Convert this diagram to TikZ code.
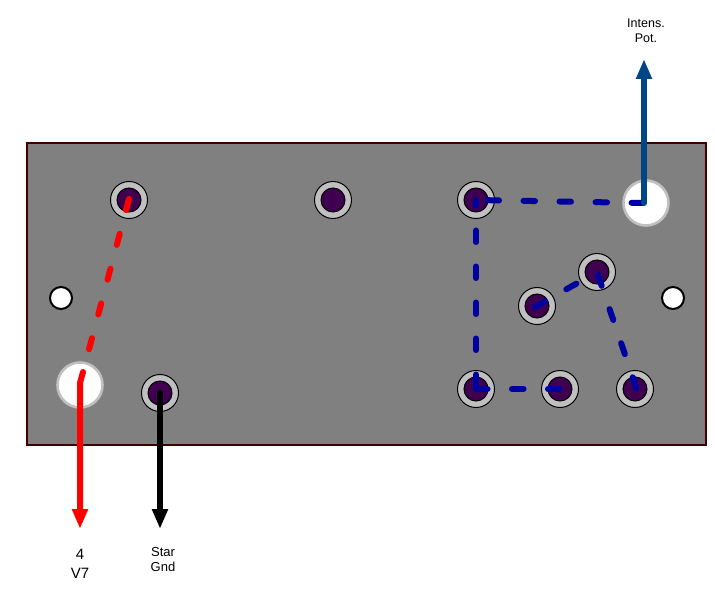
\documentclass[tikz,border=0pt]{standalone}
\usepackage{fontspec}
\setmainfont{Liberation Sans}
\usetikzlibrary{arrows.meta}
\definecolor{boardgray}{HTML}{808080}
\definecolor{boardedge}{HTML}{400000}
\definecolor{postgray}{HTML}{C0C0C0}
\definecolor{postpurple}{HTML}{400050}
\definecolor{wireblue}{HTML}{0000A0}
\definecolor{potblue}{HTML}{004586}
\tikzset{
  post/.style={circle, draw=black, line width=1pt, fill=postgray, minimum size=37pt, inner sep=0pt},
  postin/.style={circle, draw=black, line width=1pt, fill=postpurple, minimum size=24pt, inner sep=0pt},
  screw/.style={circle, draw=black, line width=2pt, fill=white, minimum size=22pt, inner sep=0pt},
  bighole/.style={circle, draw=postgray, line width=2.6pt, fill=white, minimum size=45pt, inner sep=0pt},
  wire/.style={line width=6pt, line cap=round, dash pattern=on 11.5pt off 24.5pt},
  lead/.style={line width=6pt, line cap=round, line join=round, -{Triangle[width=15pt,length=20pt]}},
  lbl/.style={align=center, inner sep=0pt}
}
\begin{document}
\begin{tikzpicture}[x=1pt, y=-1pt]
\useasboundingbox (0,0) rectangle (715,596);

\draw[draw=boardedge, fill=boardgray, line width=2pt] (27,143) rectangle (706,445);

\node[screw] (screwl) at (61,298) {};
\node[screw] (screwr) at (673,298) {};
\node[bighole] (holel) at (80,385) {};
\node[bighole] (holer) at (646,203) {};

\foreach \name/\px/\py in {a/129/200, b/333/200, c/476/200, d/597/272, e/537/306, f/160/393, g/476/389, h/560/389, i/635/389} {
  \node[post] (\name) at (\px,\py) {};
  \node[postin] (\name in) at (\px,\py) {};
}

\coordinate (redtop) at (129,199);
\coordinate (redend) at (83,372);
\coordinate (redbend) at (80,383);
\coordinate (redtip) at (80,529);
\coordinate (blacktip) at (160,529);
\coordinate (bluetop) at (644,59);
\coordinate (bluefoot) at (644,203);
\coordinate (wirestart) at (643,203);
\coordinate (wirefoot) at (476,386);
\coordinate (wirediag) at (535,307);
\coordinate (wiretop) at (598,275);
\coordinate (wireend) at (637,390);

\draw[wire, red] (redtop) -- (redend);
\draw[wire, wireblue] (wirestart) -- (c.center);
\draw[wire, wireblue] (wirefoot) -- (c.center);
\draw[wire, wireblue] (g.center) -- (h.center);
\draw[wire, wireblue] (wirediag) -- (d.center);
\draw[wire, wireblue] (wiretop) -- (wireend);

\draw[lead, red] (redend) -- (redbend) -- (redtip);
\draw[lead, black] (f.center) -- (blacktip);
\draw[lead, potblue] (bluefoot) -- (bluetop);

\node[lbl, font=\fontsize{12.5}{15}\selectfont] (potlabel) at (646,30.5) {Intens.\\Pot.};
\node[lbl, font=\fontsize{15}{19}\selectfont] (vlabel) at (80,563.5) {4\\V7};
\node[lbl, font=\fontsize{13}{15}\selectfont] (starlabel) at (163,559.5) {Star\\Gnd};

\end{tikzpicture}
\end{document}
